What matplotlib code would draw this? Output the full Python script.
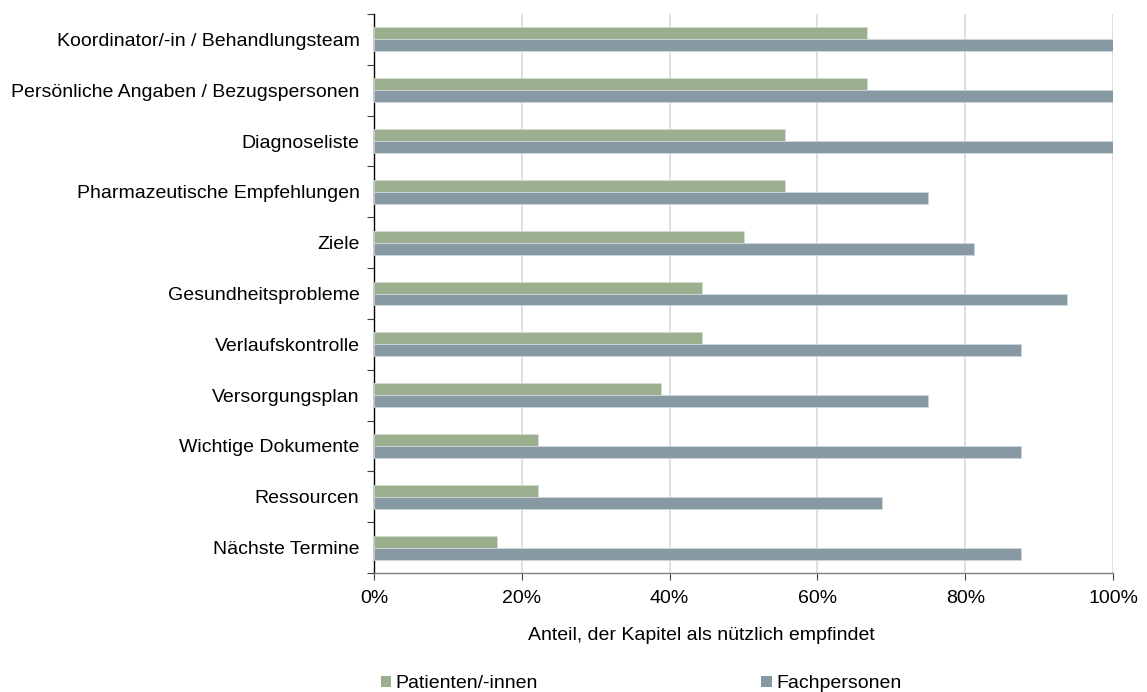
import matplotlib
matplotlib.use("Agg")
import matplotlib.pyplot as plt
import numpy as np
from matplotlib.patches import Patch
from matplotlib.ticker import FixedLocator, PercentFormatter

plt.rcParams['font.family'] = ['Liberation Sans', 'DejaVu Sans']

categories = [
    "Koordinator/-in / Behandlungsteam",
    "Persönliche Angaben / Bezugspersonen",
    "Diagnoseliste",
    "Pharmazeutische Empfehlungen",
    "Ziele",
    "Gesundheitsprobleme",
    "Verlaufskontrolle",
    "Versorgungsplan",
    "Wichtige Dokumente",
    "Ressourcen",
    "Nächste Termine",
]
patienten = [66.7, 66.7, 55.6, 55.6, 50.0, 44.4, 44.4, 38.9, 22.2, 22.2, 16.7]
fachpersonen = [100.0, 100.0, 100.0, 75.0, 81.25, 93.75, 87.5, 75.0, 87.5, 68.75, 87.5]
series_names = ["Patienten/-innen", "Fachpersonen"]
x_label = "Anteil, der Kapitel als nützlich empfindet"

green = "#9baf8f"
slate = "#8799a3"
fs = 14

fig = plt.figure(figsize=(11.47, 6.92), dpi=100)
ax = fig.add_axes([374 / 1147, 1 - 573 / 692, (1113 - 374) / 1147, (573 - 14) / 692])

n = len(categories)
y = np.arange(n)[::-1].astype(float)  # first category at top
h = 0.235
ax.barh(y + h / 2, patienten, height=h, color=green, edgecolor="#d5ddd0", linewidth=0.6, zorder=3)
ax.barh(y - h / 2, fachpersonen, height=h, color=slate, edgecolor="#d0d8dc", linewidth=0.6, zorder=3)

ax.set_xlim(0, 100)
ax.set_ylim(-0.5, n - 0.5)

# y axis: ticks at category boundaries, labels at centers
ax.yaxis.set_major_locator(FixedLocator(np.arange(-0.5, n, 1.0)))
ax.set_yticklabels([], minor=False)
ax.set_yticks(y, minor=True)
ax.set_yticklabels(categories, minor=True, fontsize=fs)
ax.tick_params(axis='y', which='major', length=5, width=0.8, color="#404040", direction='out')
ax.tick_params(axis='y', which='minor', length=0, pad=10.5)

ax.set_xticks([0, 20, 40, 60, 80, 100])
ax.xaxis.set_major_formatter(PercentFormatter(decimals=0))
ax.tick_params(axis='x', length=5, width=0.8, color="#404040", labelsize=fs, pad=7)

ax.grid(axis='x', color="#d9d9d9", linewidth=1.2, zorder=0)
ax.set_axisbelow(True)
for s in ("top", "right"):
    ax.spines[s].set_visible(False)
ax.spines['left'].set_color("#000000")
ax.spines['left'].set_linewidth(1.0)
ax.spines['bottom'].set_color("#808080")
ax.spines['bottom'].set_linewidth(1.0)

fig.text(701 / 1147, 1 - 635 / 692, x_label, fontsize=fs, ha='center', va='center')

handles = [Patch(facecolor=green, edgecolor='none'), Patch(facecolor=slate, edgecolor='none')]
fig.legend(handles, series_names, loc='center', bbox_to_anchor=(641 / 1147, 1 - 684 / 692),
           ncol=2, frameon=False, fontsize=fs, handlelength=0.55, handleheight=0.55,
           handletextpad=0.2, columnspacing=11.5, borderpad=0, borderaxespad=0)

fig.savefig("out.png", dpi=100)
